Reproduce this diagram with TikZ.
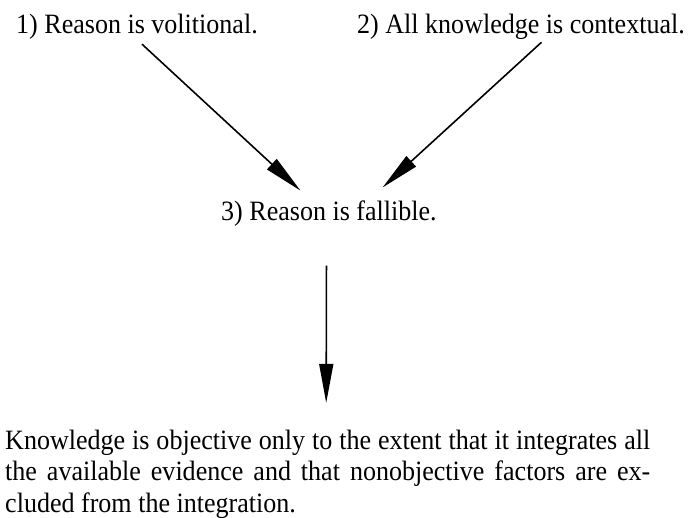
\documentclass[tikz,border=0pt]{standalone}
\usepackage{fontspec}
\setmainfont{Liberation Serif}[FakeStretch=0.93]
\usetikzlibrary{arrows.meta}
\begin{document}
\begin{tikzpicture}[x=1pt, y=-1pt, >={Triangle[length=39pt, width=14pt]},
    every node/.style={inner sep=0pt, font=\fontsize{28}{31.5}\selectfont},
    arr/.style={->, line width=1.6pt}]
\useasboundingbox (0,0) rectangle (692,517);
\node[anchor=base west] (V) at (16,33) {1) Reason is volitional.};
\node[anchor=base west] (C) at (357,33) {2) All knowledge is contextual.};
\node[anchor=base west] (F) at (221,220) {3) Reason is fallible.};
\node[anchor=base west, text width=645pt, align=justify] (K) at (5,449)
    {Knowledge is objective only to the extent that it integrates all
     the available evidence and that nonobjective factors are ex\-cluded
     from the integration.};
\draw[arr] ([xshift=5pt,yshift=-5pt]V.south) -- ([xshift=-28.5pt,yshift=9.5pt]F.north);
\draw[arr] ([xshift=20.5pt,yshift=-3pt]C.south) -- ([xshift=53.5pt,yshift=12.5pt]F.north);
\draw[arr] ([xshift=-2.5pt,yshift=-39.5pt]F.south) -- ([xshift=-1.5pt,yshift=26.5pt]K.north);
\end{tikzpicture}
\end{document}
